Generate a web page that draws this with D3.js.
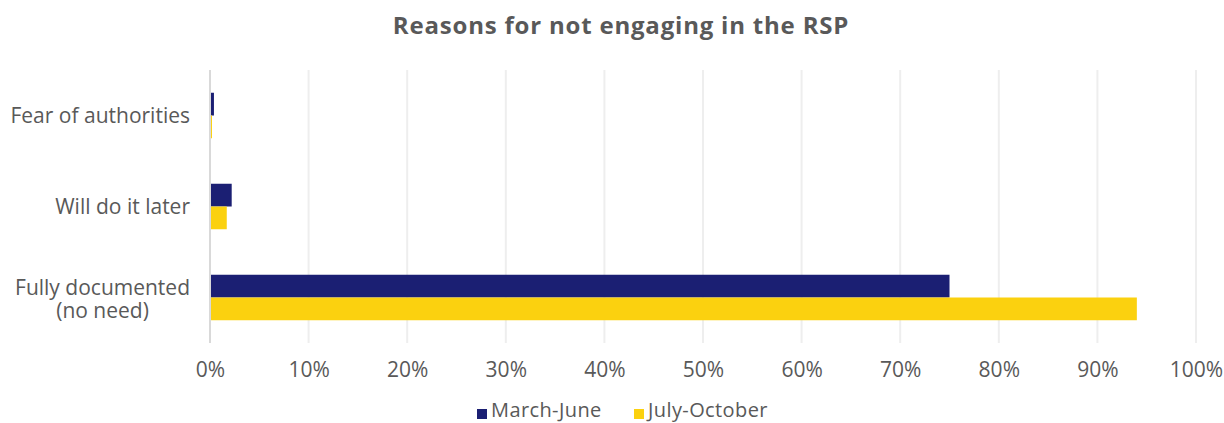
<!DOCTYPE html>
<html>
<head>
<meta charset="utf-8">
<script src="https://cdn.jsdelivr.net/npm/d3@7"></script>
<style>
  html, body { margin: 0; padding: 0; background: #fff; }
  svg { display: block; font-family: "Open Sans", sans-serif; }
</style>
</head>
<body>
<svg id="chart" width="1224" height="423"></svg>
<script>
// Survey responses: share of respondents giving each reason
const categories = ["Fear of authorities", "Will do it later", "Fully documented\n(no need)"];
const seriesNames = ["March-June", "July-October"];
const marchJune = [0.4, 2.2, 75];
const julyOctober = [0.2, 1.7, 94];
const xTicks = [0, 10, 20, 30, 40, 50, 60, 70, 80, 90, 100];
const colors = ["#1b1f73", "#fbd10f"];

const seriesValues = [marchJune, julyOctober];
const svg = d3.select("#chart");
const margin = { left: 210, right: 28, top: 70, bottom: 80 };
const W = 1224, H = 423;
const textColor = "#595959";

const x = d3.scaleLinear().domain([0, 100]).range([margin.left, W - margin.right]);
const y = d3.scaleBand().domain(categories).range([margin.top, H - margin.bottom]).paddingInner(0.5).paddingOuter(0.25);
const ySub = d3.scaleBand().domain(seriesNames).range([0, y.bandwidth()]);

// Title
svg.append("text")
  .attr("x", 621).attr("y", 34)
  .attr("text-anchor", "middle")
  .attr("font-size", 24).attr("font-weight", 700)
  .attr("letter-spacing", 0.8)
  .attr("fill", textColor)
  .text("Reasons for not engaging in the RSP");

// Vertical gridlines
svg.append("g").selectAll("line").data(xTicks.filter(d => d > 0)).join("line")
  .attr("x1", d => x(d)).attr("x2", d => x(d))
  .attr("y1", margin.top).attr("y2", H - margin.bottom)
  .attr("stroke", "#eeeeee").attr("stroke-width", 2);

// Bars
categories.forEach((cat, ci) => {
  seriesNames.forEach((s, si) => {
    svg.append("rect")
      .attr("x", x(0))
      .attr("y", y(cat) + ySub(s))
      .attr("width", x(seriesValues[si][ci]) - x(0))
      .attr("height", ySub.bandwidth())
      .attr("fill", colors[si]);
  });
});

// Zero axis line
svg.append("line")
  .attr("x1", x(0)).attr("x2", x(0))
  .attr("y1", margin.top).attr("y2", H - margin.bottom)
  .attr("stroke", "#d9d9d9").attr("stroke-width", 2);

// X axis tick labels
const xAxis = d3.axisBottom(x).tickValues(xTicks).tickFormat(d => d + "%").tickSize(0).tickPadding(0);
const gx = svg.append("g").attr("transform", `translate(0,${H - margin.bottom + 34})`).call(xAxis);
gx.select(".domain").remove();
gx.selectAll("text")
  .attr("font-size", 21).attr("fill", textColor)
  .attr("font-family", "'Open Sans', sans-serif").attr("dy", "0");

// Category labels: each block right-aligned to the axis, lines centred within it
const labelRight = 190;
categories.forEach(cat => {
  const lines = cat.split("\n");
  const cy = y(cat) + y.bandwidth() / 2;
  const t = svg.append("text")
    .attr("text-anchor", "middle")
    .attr("font-size", 21).attr("fill", textColor);
  const spans = lines.map((ln, i) => t.append("tspan")
    .attr("y", cy + 7.5 + (lines.length > 1 ? 1.5 : 0) + (i - (lines.length - 1) / 2) * 23)
    .text(ln));
  const maxW = d3.max(spans, s => s.node().getComputedTextLength());
  spans.forEach(s => s.attr("x", labelRight - maxW / 2));
});

// Legend
const legend = svg.append("g").attr("transform", "translate(477,417)");
const legendX = [0, 157];
seriesNames.forEach((s, i) => {
  const g = legend.append("g").attr("transform", `translate(${legendX[i]},0)`);
  g.append("rect").attr("x", 0).attr("y", -8).attr("width", 10).attr("height", 10).attr("fill", colors[i]);
  g.append("text").attr("x", 14).attr("y", 0)
    .attr("font-size", 20).attr("letter-spacing", 0.4)
    .attr("fill", textColor).text(s);
});
</script>
</body>
</html>
